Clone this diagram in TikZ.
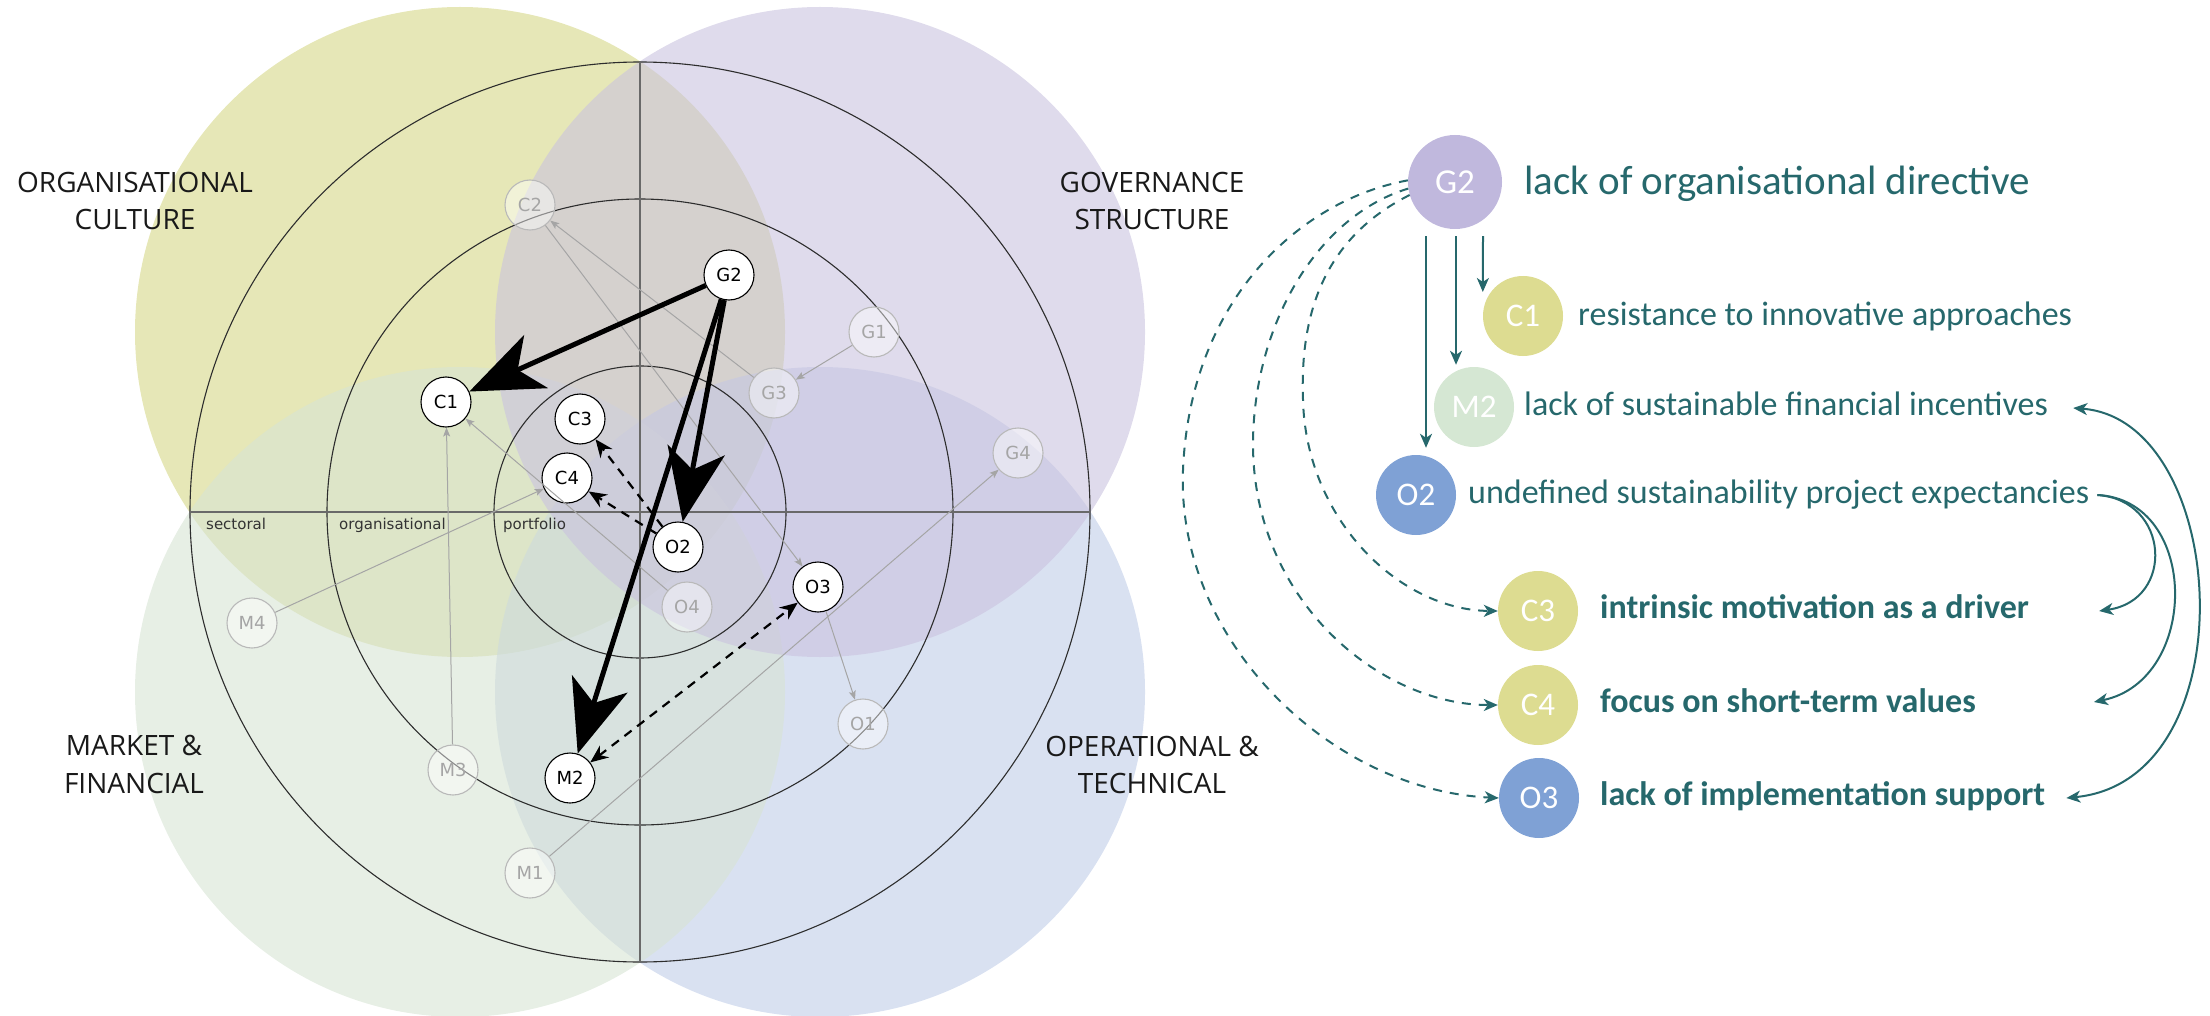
\documentclass[tikz,border=0pt]{standalone}
\usepackage{fontspec}
\setmainfont{Open Sans}
\newfontfamily\dejavu{DejaVu Sans}
\newfontfamily\carlito{Carlito}
\usetikzlibrary{arrows.meta,calc}

\definecolor{cY}{RGB}{213,215,135}
\definecolor{cP}{RGB}{202,195,223}
\definecolor{cG}{RGB}{215,228,212}
\definecolor{cB}{RGB}{192,205,232}
\definecolor{tealtxt}{RGB}{38,104,108}
\definecolor{lgY}{RGB}{221,220,145}
\definecolor{lgP}{RGB}{192,184,221}
\definecolor{lgG}{RGB}{213,231,211}
\definecolor{lgB}{RGB}{127,161,213}
\definecolor{fadeline}{RGB}{165,165,165}
\definecolor{fadeborder}{RGB}{185,185,185}
\definecolor{fadetext}{RGB}{165,165,165}
\definecolor{ringcol}{RGB}{45,45,45}
\definecolor{axiscol}{RGB}{105,105,105}

\begin{document}
\begin{tikzpicture}[x=1pt,y=-1pt,
  quadfill/.style={fill opacity=0.6},
  ringline/.style={draw=ringcol, line width=1.1pt},
  axisline/.style={draw=axiscol, line width=1.8pt},
  axislabel/.style={anchor=base west, inner sep=0pt, text=black!80, font=\dejavu\fontsize{15}{15}\selectfont},
  quadlabel/.style={anchor=base, inner sep=0pt, text=black!90, font=\fontsize{28}{34}\selectfont},
  act/.style={circle, draw=black, line width=1.1pt, fill=white, minimum size=50pt, inner sep=0pt, font=\dejavu\fontsize{18}{18}\selectfont},
  fade/.style={circle, draw=fadeborder, line width=1.1pt, fill=white, fill opacity=0.45, text opacity=1, text=fadetext, minimum size=50pt, inner sep=0pt, font=\dejavu\fontsize{18}{18}\selectfont},
  bigarrow/.style={draw=black, line width=5pt, -{Stealth[length=73pt,width=58pt,inset=20pt]}},
  dasharrow/.style={draw=black, line width=2.2pt, dash pattern=on 9pt off 7pt, -{Stealth[length=18pt,width=15pt,inset=6pt]}},
  dashboth/.style={draw=black, line width=2.2pt, dash pattern=on 9pt off 7pt, {Stealth[length=18pt,width=15pt,inset=6pt]}-{Stealth[length=18pt,width=15pt,inset=6pt]}},
  greyarrow/.style={draw=fadeline, line width=1pt, -{Stealth[length=9pt,width=7pt,inset=2pt]}},
  lgnode/.style={circle, minimum size=80pt, inner sep=0pt, text=white, font=\carlito\fontsize{33}{33}\selectfont},
  legtext/.style={anchor=base west, inner sep=0pt, text=tealtxt, font=\carlito\fontsize{34}{40}\selectfont},
  legbold/.style={legtext, font=\carlito\bfseries\fontsize{34}{40}\selectfont},
  tealarrow/.style={draw=tealtxt, line width=2pt, -{Stealth[length=14pt,width=12pt,inset=4pt]}},
  tealdash/.style={tealarrow, dash pattern=on 9pt off 8pt},
  tealboth/.style={draw=tealtxt, line width=2pt, {Stealth[length=14pt,width=12pt,inset=4pt]}-{Stealth[length=14pt,width=12pt,inset=4pt]}}
]
\useasboundingbox (0,0) rectangle (2210,1016);

% quadrant discs
\fill[cY, quadfill] (460,332) circle[radius=325pt];
\fill[cB, quadfill] (820,692) circle[radius=325pt];
\fill[cG, quadfill] (460,692) circle[radius=325pt];
\fill[cP, quadfill] (820,332) circle[radius=325pt];

% rings and axes
\draw[ringline] (640,512) circle[radius=146pt];
\draw[ringline] (640,512) circle[radius=313pt];
\draw[ringline] (640,512) circle[radius=450pt];
\draw[axisline] (190,512) -- (1090,512);
\draw[axisline] (640,62) -- (640,962);

\node[axislabel] (axS) at (206,529) {sectoral};
\node[axislabel] (axO) at (339,529) {organisational};
\node[axislabel] (axP) at (503,529) {portfolio};

% quadrant labels
\node[quadlabel] (qC1) at (135,193) {ORGANISATIONAL};
\node[quadlabel] (qC2) at (135,230) {CULTURE};
\node[quadlabel] (qG1) at (1152,193) {GOVERNANCE};
\node[quadlabel] (qG2) at (1152,230) {STRUCTURE};
\node[quadlabel] (qM1) at (134,755) {MARKET \&};
\node[quadlabel] (qM2) at (134,793) {FINANCIAL};
\node[quadlabel] (qO1) at (1152,756) {OPERATIONAL \&};
\node[quadlabel] (qO2) at (1152,793) {TECHNICAL};

% faded nodes
\node[fade] (C2) at (530,205) {C2};
\node[fade] (G1) at (874,332) {G1};
\node[fade] (G3) at (774,393) {G3};
\node[fade] (G4) at (1018,453) {G4};
\node[fade] (O4) at (687,607) {O4};
\node[fade] (O1) at (863,724) {O1};
\node[fade] (M4) at (252,623) {M4};
\node[fade] (M3) at (453,770) {M3};
\node[fade] (M1) at (530,873) {M1};

% active nodes
\node[act] (G2) at (729,275) {G2};
\node[act] (C1) at (446,402) {C1};
\node[act] (C3) at (580,419) {C3};
\node[act] (C4) at (567,478) {C4};
\node[act] (O2) at (678,547) {O2};
\node[act] (O3) at (818,587) {O3};
\node[act] (M2) at (570,778) {M2};

% grey links
\draw[greyarrow] (G3) -- (C2);
\draw[greyarrow] (C2) -- (O3);
\draw[greyarrow] (G1) -- (G3);
\draw[greyarrow] (O4) -- (C1);
\draw[greyarrow] (M3) -- (C1);
\draw[greyarrow] (M4) -- (C4);
\draw[greyarrow] (M1) -- (G4);
\draw[greyarrow] (O3) -- (O1);

% black links
\draw[dasharrow] (O2) -- (C3);
\draw[dasharrow] (O2) -- (C4);
\draw[dashboth] (M2) -- (O3);
\draw[bigarrow] (G2) -- (C1);
\draw[bigarrow] (G2) -- (O2);
\draw[bigarrow] (G2) -- (M2);

% legend
\node[lgnode, fill=lgP, minimum size=94pt, font=\carlito\fontsize{35}{35}\selectfont] (LG2) at (1455,182) {G2};
\node[lgnode, fill=lgY] (LC1) at (1523,316) {C1};
\node[lgnode, fill=lgG] (LM2) at (1474,407) {M2};
\node[lgnode, fill=lgB] (LO2) at (1416,495) {O2};
\node[lgnode, fill=lgY] (LC3) at (1538,611) {C3};
\node[lgnode, fill=lgY] (LC4) at (1538,705) {C4};
\node[lgnode, fill=lgB] (LO3) at (1539,798) {O3};

\node[legtext, font=\carlito\fontsize{41}{46}\selectfont] (TG2) at (1524,195) {lack of organisational directive};
\node[legtext] (TC1) at (1578,325) {resistance to innovative approaches};
\node[legtext] (TM2) at (1524,415) {lack of sustainable financial incentives};
\node[legtext] (TO2) at (1468,503) {undefined sustainability project expectancies};
\node[legbold] (TC3) at (1600,618) {intrinsic motivation as a driver};
\node[legbold] (TC4) at (1600,712) {focus on short-term values};
\node[legbold] (TO3) at (1600,805) {lack of implementation support};

\draw[tealarrow] ([xshift=-29pt,yshift=-7pt]LG2.south) -- ([xshift=10pt,yshift=7pt]LO2.north);
\draw[tealarrow] ([xshift=1pt,yshift=-7pt]LG2.south) -- ([xshift=-18pt,yshift=2pt]LM2.north);
\draw[tealarrow] ([xshift=28pt,yshift=-7pt]LG2.south) -- ([yshift=24pt]LC1.west);

\draw[tealdash] (LG2.196) .. controls (1320,240) and (1300,320) .. (1303,400)
  .. controls (1306,520) and (1400,610) .. (LC3.west);
\draw[tealdash] (LG2.188) .. controls (1320,215) and (1255,320) .. (1253,440)
  .. controls (1251,600) and (1380,705) .. (LC4.west);
\draw[tealdash] (LG2.178) .. controls (1300,200) and (1190,300) .. (1183,470)
  .. controls (1176,640) and (1330,790) .. (LO3.west);

\draw[tealarrow] ($(TO2.base east)+(8,-8)$) .. controls (2170,500) and (2175,600) .. ($(TC3.base east)+(70,-7)$);
\draw[tealarrow] ($(TO2.base east)+(8,-8)$) .. controls (2200,500) and (2200,680) .. ($(TC4.base east)+(118,-10)$);
\draw[tealboth] ($(TM2.base east)+(25,-7)$) .. controls (2230,420) and (2250,780) .. ($(TO3.base east)+(21,-7)$);

\end{tikzpicture}
\end{document}
